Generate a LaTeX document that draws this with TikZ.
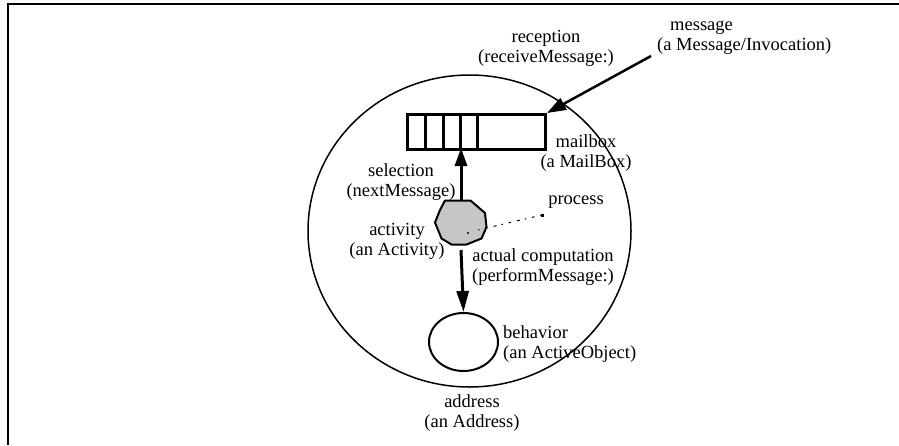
\documentclass[tikz,border=0pt]{standalone}
\usepackage{fontspec}
\setmainfont{Liberation Serif}
\usetikzlibrary{arrows.meta,shapes.geometric}

\tikzset{
  lbl/.style={inner sep=0pt, align=center, font=\fontsize{18.5}{20}\selectfont},
  lblleft/.style={lbl, align=left},
  thickline/.style={line width=3pt},
  bigarrow/.style={line width=3pt, -{Triangle[length=18pt,width=12pt]}},
}

\begin{document}
\begin{tikzpicture}[x=1pt, y=-1pt, line join=miter]
  \useasboundingbox (0,0) rectangle (899,445);

  % frame edges
  \draw[line width=2pt] (8,445) -- (8,4) -- (899,4);

  % address space (outer boundary)
  \node[draw, line width=1.5pt, ellipse, minimum width=323pt, minimum height=312pt, inner sep=0pt]
    (address) at (469.5,231) {};

  % mailbox with queued slots
  \node[draw, thickline, minimum width=138pt, minimum height=35pt, inner sep=0pt, anchor=north west]
    (mailbox) at (406,113) {};
  \foreach \xx in {425.5,443,460.5,477.5}
    \draw[thickline] (\xx,113) -- (\xx,148);

  % activity (process) as a shaded octagon
  \draw[line width=2pt, fill=gray!45]
    (445,200.5) -- (470.5,200.5) -- (485,213) -- (486.5,227) -- (481.5,238.5)
    -- (466.5,244.5) -- (451.5,244.5) -- (441.5,238.5) -- (435,222.5) -- (440,210) -- cycle;
  \coordinate (activity) at (461,222.5);
  \coordinate (acttop) at (461,200.5);
  \coordinate (actbot) at (461,250);
  \coordinate (mbin) at (461,148);

  % behavior object
  \node[draw, line width=2pt, ellipse, minimum width=69pt, minimum height=58pt, inner sep=0pt]
    (behavior) at (463.5,342) {};

  % selection and computation arrows
  \draw[bigarrow] (acttop) -- (mbin);
  \draw[line width=3pt, -{Triangle[length=21pt,width=12pt]}] (actbot) -- (behavior.north);

  % incoming message
  \coordinate (msgstart) at (651,56);
  \draw[line width=2.5pt, -{Triangle[length=19pt,width=13pt]}] (msgstart) -- (mailbox.north east);

  % process pointer
  \coordinate (procin) at (478,230);
  \coordinate (procout) at (542,215);
  \draw[line width=1pt, dash pattern=on 1.5pt off 6pt on 2.5pt off 6pt on 3pt off 5pt] (procin) -- (procout);
  \fill (procout) ++(-1.5,-1.5) rectangle ++(3,3);
  \fill (468,233) circle (1.2pt);

  % labels
  \node[lblleft, anchor=west] (lmsg) at (657,37.5) {\hspace*{13pt}message\\(a Message/Invocation)};
  \node[lbl] (lrec) at (546,48.5) {reception\\(receiveMessage:)};
  \node[lbl] (lmb) at (586,153) {mailbox\\(a MailBox)};
  \node[lbl] (lsel) at (401,182.5) {selection\\(nextMessage)};
  \node[lbl] (lact) at (397,241) {activity\\(an Activity)};
  \node[lbl] (lproc) at (576,202) {process};
  \node[lbl] (lcomp) at (543,267) {actual computation\\(performMessage:)};
  \node[lblleft, anchor=west] (lbeh) at (503,344) {behavior\\(an ActiveObject)};
  \node[lbl] (laddr) at (472,413.5) {address\\(an Address)};
\end{tikzpicture}
\end{document}
